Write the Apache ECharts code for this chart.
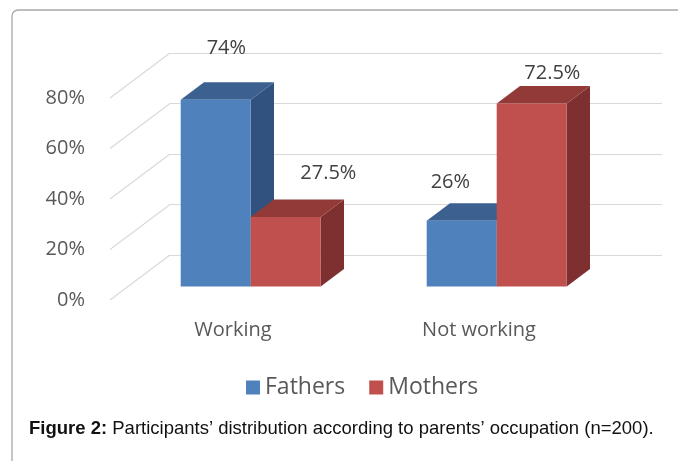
<!DOCTYPE html>
<html>
  <head>
    <title>Parents' occupation</title>
    <style>
      html,
      body {
        height: 100%;
        margin: 0;
        padding: 0;
        background: #fff;
      }
      #chart-container {
        width: 678px;
        height: 461px;
      }
    </style>
    <script src="https://cdn.jsdelivr.net/npm/echarts@6/dist/echarts.min.js"></script>
  </head>
  <body>
    <div id="chart-container"></div>

    <script>
      // data
      const categories = ["Working", "Not working"];
      const fathers = [74, 26];
      const mothers = [27.5, 72.5];
      const yTicks = [0, 20, 40, 60, 80];

      // label nudges (px) relative to each bar's top face, as placed in the original
      const fathersLabelShift = [[-1, -43], [-23, -30]];
      const mothersLabelShift = [[31, -35], [9, -21]];

      // oblique projection: back wall -> bar front -> front edge
      const BAR_W = 70;
      const DEPTH_X = 23.3,
        DEPTH_Y = -17.5; // bar depth
      const FRONT_X = -42,
        FRONT_Y = 31.5; // bar front plane vs back wall

      function barRender(slot, colors, shifts) {
        return function (params, api) {
          const cat = api.value(0);
          const v = api.value(1);
          const base = api.coord([cat, 0]);
          const top = api.coord([cat, v]);
          const x0 = base[0] + FRONT_X - BAR_W * 1 - 0.3 + slot * BAR_W;
          const x1 = x0 + BAR_W;
          const yb = base[1] + FRONT_Y;
          const yt = top[1] + FRONT_Y;
          const sh = shifts[params.dataIndex];
          return {
            type: "group",
            children: [
              {
                type: "polygon",
                shape: { points: [[x1, yt], [x1 + DEPTH_X, yt + DEPTH_Y], [x1 + DEPTH_X, yb + DEPTH_Y], [x1, yb]] },
                style: { fill: colors[2] },
              },
              {
                type: "polygon",
                shape: { points: [[x0, yt], [x1, yt], [x1 + DEPTH_X, yt + DEPTH_Y], [x0 + DEPTH_X, yt + DEPTH_Y]] },
                style: { fill: colors[1] },
              },
              {
                type: "rect",
                shape: { x: x0, y: yt, width: BAR_W, height: yb - yt },
                style: { fill: colors[0] },
              },
              {
                type: "text",
                x: x0 + BAR_W / 2 + DEPTH_X / 2 + sh[0],
                y: yt + DEPTH_Y / 2 + sh[1],
                style: {
                  text: v + "%",
                  fill: "#404040",
                  font: "20px 'Open Sans'",
                  align: "center",
                  verticalAlign: "middle",
                },
              },
            ],
          };
        };
      }

      var myChart = echarts.init(document.getElementById("chart-container"), null, { renderer: "canvas" });

      var option = {
        animation: false,
        textStyle: { fontFamily: "'Open Sans'" },
        grid: [
          // back wall
          { left: 170, top: 53, width: 492, height: 202 },
          // front edge (labels)
          { left: 110, top: 98, width: 492, height: 202 },
        ],
        xAxis: [
          {
            type: "category",
            gridIndex: 0,
            data: categories,
            axisLine: { show: false },
            axisTick: { show: false },
            axisLabel: { show: false },
          },
          {
            type: "category",
            gridIndex: 1,
            data: categories,
            axisLine: { show: false },
            axisTick: { show: false },
            axisLabel: { margin: 20, color: "#595959", fontSize: 20 },
          },
        ],
        yAxis: [
          {
            type: "value",
            gridIndex: 0,
            min: 0,
            max: 80,
            interval: 20,
            axisLabel: { show: false },
            splitLine: { lineStyle: { color: "#d9d9d9", width: 1.2 } },
          },
          {
            type: "value",
            gridIndex: 1,
            min: 0,
            max: 80,
            interval: 20,
            axisLabel: { margin: 25, color: "#595959", fontSize: 20, formatter: "{value}%" },
            splitLine: { show: false },
          },
        ],
        legend: {
          data: ["Fathers", "Mothers"],
          left: 241,
          top: 371,
          icon: "rect",
          itemWidth: 14,
          itemHeight: 14,
          itemGap: 24,
          textStyle: { fontSize: 23, color: "#595959" },
        },
        graphic: [
          {
            type: "rect",
            shape: { x: 12, y: 10, width: 720, height: 500, r: 6 },
            style: { fill: "none", stroke: "#a8a8a8", lineWidth: 1.3 },
            z: 0,
          },
          {
            type: "text",
            left: 29,
            top: 419,
            style: {
              text: "{b|Figure 2:} Participants’ distribution according to parents’ occupation (n=200).",
              font: "18.5px 'Liberation Sans'",
              fill: "#111",
              rich: {
                b: { fontWeight: "bold", fontSize: 18.5, fontFamily: "Liberation Sans", fill: "#111" },
              },
            },
          },
        ],
        series: [
          {
            // slanted side-wall gridlines
            type: "custom",
            xAxisIndex: 0,
            yAxisIndex: 0,
            silent: true,
            data: yTicks.map((t) => [0, t]),
            renderItem: function (params, api) {
              const y = api.coord([0, api.value(1)])[1];
              const x = params.coordSys.x;
              return {
                type: "line",
                shape: { x1: x, y1: y, x2: x - 60, y2: y + 45 },
                style: { stroke: "#d9d9d9", lineWidth: 1.2 },
              };
            },
          },
          {
            name: "Fathers",
            type: "custom",
            xAxisIndex: 0,
            yAxisIndex: 0,
            itemStyle: { color: "#4f81bd" },
            data: fathers.map((v, i) => [i, v]),
            renderItem: barRender(0, ["#4f81bd", "#3c6190", "#31527e"], fathersLabelShift),
          },
          {
            name: "Mothers",
            type: "custom",
            xAxisIndex: 0,
            yAxisIndex: 0,
            itemStyle: { color: "#c0504d" },
            data: mothers.map((v, i) => [i, v]),
            renderItem: barRender(1, ["#c0504d", "#923a38", "#7d302f"], mothersLabelShift),
          },
        ],
      };

      myChart.setOption(option);
    </script>
  </body>
</html>
